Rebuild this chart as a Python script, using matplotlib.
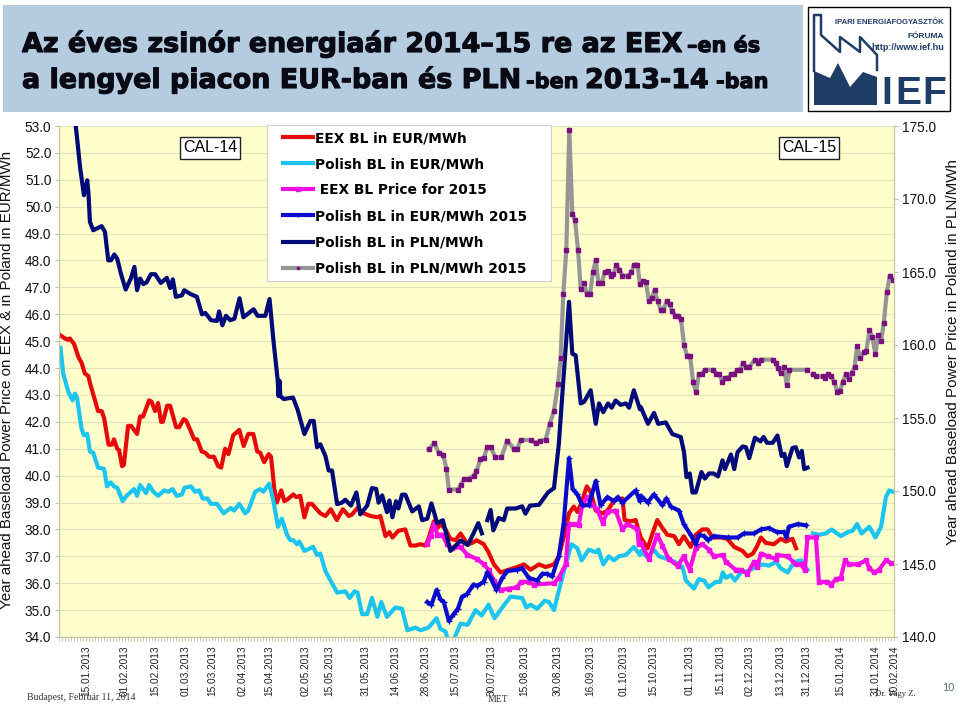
#!/usr/bin/env python3
"""Year-ahead baseload power prices, EEX and Poland, CAL-14 and CAL-15."""

import matplotlib
matplotlib.use("Agg")
import matplotlib.pyplot as plt
from matplotlib.patches import Polygon, Rectangle
import matplotlib.patheffects as pe

plt.rcParams["font.family"] = ["Liberation Sans", "DejaVu Sans"]

TICK_POS = [9, 22, 32, 42, 51, 61, 70, 82, 90, 102, 112, 122, 132, 144, 155, 166, 177, 188, 198, 210, 220, 230, 240, 249, 260, 272, 278]
TICK_LABELS = ["15.01.2013", "01.02.2013", "15.02.2013", "01.03.2013", "15.03.2013", "02.04.2013", "15.04.2013", "02.05.2013", "15.05.2013",
               "31.05.2013", "14.06.2013", "28.06.2013", "15.07.2013", "30.07.2013", "15.08.2013", "30.08.2013", "16.09.2013", "01.10.2013",
               "15.10.2013", "01.11.2013", "15.11.2013", "02.12.2013", "13.12.2013", "31.12.2013", "15.01.2014", "31.01.2014", "10.02.2014"]

eex_x = [0, 2, 3, 3.6, 5, 6.5, 7.5, 8.6, 9.8, 10.3, 13, 14.2, 15, 16.5, 17.6, 18.3, 19.4, 20, 21, 21.6, 23, 24, 26, 27, 28, 30, 30.8, 32, 33, 34, 34.6, 36, 37, 39, 40, 41.5, 42.3, 43.7, 45, 46, 47.5, 48.7, 50, 51.6, 53, 54, 55.3, 56.4, 58, 60, 61.5, 63, 64.7, 66, 67, 68.3, 69.8, 70.6, 71.7, 72.5, 74, 75, 75.9, 78, 79, 80.3, 81.7, 83, 84.2, 87,
         88.7, 90.5, 92.5, 94.5, 96.5, 97.5, 99.4, 101.4, 103.7, 106, 107, 108.7, 110, 111, 113, 115.3, 117, 118.7, 120.3, 122, 123, 124.8, 126, 127, 128.7, 130.3, 132, 133.7, 136, 137.6, 139, 141.4, 143, 144.8, 147, 149.8, 152.5, 154.8, 157, 159.8, 162, 164.8, 166.4, 168, 169.8, 171.4, 172.6, 174, 175.7, 177, 178.7, 181, 182.6, 185, 187.6, 188.3, 190.3, 192, 193, 193.7,
         196, 197.6, 199.2, 200.6, 202.5, 204.8, 206.4, 208, 210.3, 212, 214.2, 215.9, 217.6, 220.3, 222.5, 224.8, 227.6, 229.2, 231, 232.3, 233.7, 235.3, 238, 240.3, 242, 244.2, 245.4]
eex_y = [45.25, 45.1, 45.05, 45.1, 44.9, 44.4, 44.2, 43.8, 43.7, 43.45, 42.4, 42.4, 42.15, 41.15, 41.15, 41.35, 41.0, 40.95, 40.35, 40.4, 41.85, 41.85, 41.55, 42.2, 42.2, 42.8, 42.75, 42.4, 42.7, 42.0, 42.0, 42.6, 42.6, 41.8, 41.8, 42.1, 42.05, 41.7, 41.35, 41.35, 40.9, 40.85, 40.7, 40.7, 40.35, 40.3, 41.0, 40.8, 41.5, 41.7, 41.1, 41.55, 41.55, 40.9, 40.85, 40.5, 40.8, 40.7, 39.5, 39.0, 39.45, 39.05, 39.1, 39.3, 39.2, 39.25, 38.45, 38.95, 38.95, 38.6,
         38.5, 38.75, 38.35, 38.75, 38.5, 38.55, 38.8, 38.6, 38.5, 38.45, 38.5, 37.75, 37.9, 37.7, 37.95, 38.0, 37.4, 37.4, 37.45, 37.4, 37.65, 38.3, 38.05, 38.2, 38.0, 37.65, 37.6, 37.85, 37.45, 37.5, 37.6, 37.45, 37.15, 36.7, 36.4, 36.5, 36.6, 36.7, 36.5, 36.7, 36.6, 36.7, 37.0, 37.7, 38.6, 38.85, 38.65, 39.0, 39.6, 39.4, 38.7, 38.6, 38.7, 39.1, 39.15, 38.35, 38.3, 38.35, 37.95, 37.7,
         37.3, 37.85, 38.35, 38.1, 37.8, 37.75, 37.45, 37.75, 37.35, 37.8, 38.0, 38.0, 37.7, 37.7, 37.65, 37.35, 37.2, 37.0, 37.1, 37.35, 37.7, 37.5, 37.45, 37.65, 37.55, 37.65, 37.3]

pl_x = [0.5, 1.4, 3, 4.5, 5.3, 6, 7.5, 8.3, 9.4, 10.3, 11.4, 13, 15, 16, 17.2, 18.3, 19.4, 21.2, 22.5, 25, 26, 27, 29, 30, 31.4, 33, 35, 36.4, 37.8, 39.2, 40.9, 41.8, 44, 45.3, 46.7, 47.8, 49.4, 50.6, 52.6, 54.8, 57.2, 58.3, 60, 62, 63, 65.3, 67, 68, 70, 71.4, 72.9, 74.2, 75.9, 77, 78, 79.2, 80, 81.7, 84.6, 85.9, 87,
        88.7, 92.6, 95.3, 96.8, 98.4, 99.4, 100.9, 102.6, 104.2, 106, 107.3, 109.2, 112, 114.2, 116, 118.7, 120.3, 123, 125.7, 127, 128.7, 129.8, 131.4, 133.7, 136, 138.7, 140.7, 143, 145, 147.6, 150.3, 154.2, 155.6, 157, 159.2, 161.7, 163.1, 164.8, 165.9, 168, 170.6, 172.6, 174, 176.4, 178.7, 179.6, 181.2, 183, 184.8, 186.4, 188.7, 191.4, 193.4, 193.7,
        196, 198, 199.8, 202.5, 205, 207.6, 208.7, 211.4, 213, 214.8, 216.2, 218.7, 220.1, 221, 222, 223.7, 225, 227, 229.2, 232, 234.2, 236.4, 238.7, 240.3, 242.6, 244.8, 247, 249.2]
pl_y = [44.75, 43.8, 43.15, 42.8, 43.05, 42.9, 41.75, 41.5, 41.55, 40.9, 40.85, 40.3, 40.25, 39.6, 39.75, 39.6, 39.55, 39.05, 39.25, 39.5, 39.25, 39.65, 39.35, 39.65, 39.4, 39.25, 39.45, 39.4, 39.5, 39.25, 39.3, 39.55, 39.6, 39.4, 39.45, 39.15, 39.15, 38.95, 38.95, 38.6, 38.8, 38.7, 38.95, 38.6, 38.7, 39.4, 39.5, 39.4, 39.7, 39.05, 38.1, 38.4, 37.8, 37.6, 37.6, 37.45, 37.55, 37.2, 37.35, 37.05, 37.1,
        36.45, 35.65, 35.7, 35.45, 35.7, 35.65, 34.85, 34.85, 35.45, 34.75, 35.3, 34.75, 35.1, 35.05, 34.25, 34.35, 34.25, 34.35, 34.7, 34.3, 34.2, 33.75, 33.9, 34.5, 34.45, 35.0, 34.8, 35.2, 34.7, 35.1, 35.5, 35.45, 35.1, 35.2, 35.05, 35.35, 35.3, 35.0, 35.5, 36.4, 37.45, 37.3, 36.85, 37.25, 37.15, 37.25, 36.7, 37.0, 36.85, 37.0, 37.05, 37.35, 37.05, 37.2,
        36.95, 37.25, 37.0, 36.9, 36.8, 36.6, 36.1, 35.8, 36.15, 36.1, 35.85, 36.05, 36.05, 36.4, 36.2, 36.3, 36.1, 36.4, 36.45, 36.6, 36.7, 36.65, 36.8, 36.55, 36.4, 36.8, 36.85, 36.5]
pl2_x = [251, 253, 255.3, 257.2, 260.3, 262.6, 264.2, 265.7, 267.2, 269.8, 271.8, 273.7, 275.3, 276.4, 277.6]
pl2_y = [37.85, 37.8, 37.85, 38.0, 37.75, 37.9, 37.95, 38.2, 37.85, 38.1, 37.7, 38.1, 39.2, 39.45, 39.4]

eex15_x = [122.6, 123.7, 124.8, 126, 127.6, 129.2, 130.9, 133.7, 136, 139.2, 141.4, 143, 144.8, 147, 149.8, 152.6, 153.7, 156.4, 158, 164.8, 166.4, 168.7, 169.8, 171.4, 173, 174.2, 175.9, 177.6, 179.2, 181, 182.6, 185.3, 187.6, 189.2, 192.6, 193, 193.7,
           196.4, 199.2, 200.9, 203, 206, 208, 210, 212, 214.2, 216.4, 218, 221, 222, 225.3, 227, 229.2, 231.4, 232.5, 233.7, 236, 238.7, 239.2, 242.6, 245.3, 247, 248.3, 249.2, 252, 253, 255.8, 257, 258.7, 260.3, 261.7, 263.1, 266, 268.7, 269.8, 271.4, 273, 275.3, 277]
eex15_y = [37.45, 37.75, 38.2, 37.8, 37.8, 37.45, 37.3, 37.35, 37.05, 36.9, 36.7, 36.5, 36.1, 35.75, 35.8, 35.85, 36.05, 36.05, 35.95, 36.0, 36.2, 36.7, 38.2, 38.2, 38.15, 38.9, 39.2, 38.9, 38.75, 38.25, 38.65, 38.7, 38.0, 38.2, 38.0, 37.45, 37.5,
           36.9, 37.8, 37.4, 36.9, 36.65, 37.0, 36.5, 37.3, 37.45, 37.25, 37.0, 37.05, 36.8, 36.5, 36.5, 36.35, 36.8, 36.6, 37.1, 37.0, 36.9, 37.05, 37.0, 36.7, 36.7, 36.5, 37.7, 37.7, 36.05, 36.05, 35.95, 36.15, 36.2, 36.85, 36.7, 36.7, 36.85, 36.55, 36.4, 36.5, 36.85, 36.75]

pl15_x = [122.6, 124, 125.7, 127, 128.1, 129.8, 131.4, 132.8, 134.2, 135.9, 138, 139.2, 141.4, 142.6, 143.7, 145.6, 147.6, 149.2, 152.6, 154.2, 156.4, 159.2, 160.9, 162.6, 164.2, 166.4, 168, 169.8, 171, 172.6, 174.2, 176.4, 178.7, 180.3, 182.6, 184.8, 186, 187.6, 192, 193.4, 193.7,
          196, 198, 200.9, 202.2, 203.7, 206.4, 208, 210.3, 212, 213.1, 214.8, 216, 218, 222.6, 226, 228, 231.4, 233.7, 236.4, 239, 241.4, 242.2, 243, 246, 248.7]
pl15_y = [35.3, 35.2, 35.75, 35.4, 35.3, 34.6, 34.85, 35.05, 35.5, 35.6, 35.95, 35.9, 36.05, 36.4, 36.2, 35.75, 36.2, 36.45, 36.5, 36.55, 36.2, 36.1, 36.35, 36.35, 36.25, 37.0, 38.2, 40.65, 39.5, 39.3, 38.9, 38.9, 39.8, 38.9, 39.2, 39.05, 39.2, 39.0, 39.45, 39.05, 39.25,
          39.0, 39.3, 38.9, 39.15, 38.85, 38.7, 38.2, 37.8, 37.45, 37.8, 37.75, 37.6, 37.75, 37.7, 37.7, 37.85, 37.85, 38.0, 38.05, 37.9, 37.9, 37.7, 38.1, 38.2, 38.15]

pln_x = [4.5, 6.1, 7, 8.3, 9.4, 9.8, 10.3, 11.4, 14.2, 15.3, 16.4, 17.3, 18.4, 19.4, 20.6, 22.2, 23.9, 25.1, 26, 27, 28.1, 29.2, 30.6, 32, 33.9, 35.9, 37, 37.9, 38.9, 40.9, 41.7, 43.7, 45.9, 47.6, 48.7, 50.6, 52.6, 53.3, 54.4, 55.6, 57, 58.4, 60.1, 61.4, 64.8, 66.1, 68.7, 70.1, 71.4, 72.8, 73.1, 73.4, 73.7, 74.8, 77.9, 79.4, 81.7, 83.7, 84.8, 85.9, 87,
         88.7, 89.8, 90.9, 92.6, 94.2, 95.3, 97.2, 99, 100.3, 102.6, 104.2, 105.6, 106.4, 107.6, 109.2, 110, 111, 112.2, 113, 114.2, 115.3, 117.6, 119.8, 120.9, 122.6, 124, 125.9, 127.8, 130.3, 133.7, 136.1, 138, 139.6, 140.8]
pln_y = [177.0, 174.0, 172.2, 170.26, 171.28, 170.4, 168.43, 167.86, 168.14, 167.75, 165.8, 165.8, 166.2, 165.9, 164.9, 163.8, 164.55, 165.35, 163.75, 164.55, 164.17, 164.3, 164.85, 164.85, 164.25, 164.6, 163.9, 164.5, 163.3, 163.4, 163.75, 163.5, 163.3, 162.1, 162.2, 161.7, 161.65, 162.3, 161.35, 162.0, 161.7, 161.8, 163.2, 161.9, 162.45, 162.0, 162.0, 163.15, 160.3, 157.6, 156.5, 157.55, 156.5, 156.3, 156.4, 155.6, 153.9, 154.8, 154.8, 153.0, 153.2,
         152.4, 151.4, 151.4, 149.1, 149.2, 149.4, 149.0, 149.9, 148.4, 149.0, 150.2, 150.15, 149.2, 149.7, 148.55, 149.35, 148.2, 149.3, 148.8, 149.75, 149.75, 148.6, 148.95, 148.0, 148.1, 149.15, 147.8, 148.0, 145.9, 146.6, 146.3, 147.1, 147.8, 147.1]
pln2_x = [142.6, 143.7, 144.6, 146.4, 148.1, 149.2, 152, 154.2, 155.3, 156.8, 159.8, 162.8, 164.8, 166.4, 167.9, 169.8, 170.9, 172, 173.7, 174.8, 177, 178.7, 179.8, 181.2, 182.8, 184, 185.3, 187, 188.7, 189.8, 191.4, 193.4, 193.7,
          196.1, 198.1, 199.5, 202, 204.2, 207, 208.1, 208.9, 210, 210.9, 212, 213.9, 215, 216.4, 218, 219.4, 220.9, 221.7, 223.7, 224.8, 225.9, 227.6, 228.7, 229.8, 231.7, 233.5, 234.6, 235.7, 237.6, 239.2, 240.6, 241.5, 242.3, 244.2, 245.3, 246.4, 247.3, 248.1, 249.2]
pln2_y = [148.0, 148.7, 147.3, 148.15, 148.0, 148.8, 148.8, 148.95, 148.45, 149.0, 149.05, 149.9, 150.2, 153.2, 157.55, 162.96, 159.4, 159.3, 156.0, 156.1, 156.9, 154.6, 156.0, 155.4, 156.0, 155.7, 156.2, 155.9, 156.0, 155.7, 156.9, 155.6, 155.75,
          154.6, 155.35, 154.6, 154.7, 153.9, 153.7, 152.65, 150.95, 151.2, 149.9, 149.9, 151.3, 150.85, 151.2, 151.2, 151.0, 152.1, 151.5, 152.5, 151.5, 152.65, 153.05, 153.0, 152.25, 153.65, 153.4, 153.7, 153.3, 153.3, 153.8, 152.4, 152.55, 151.7, 152.95, 153.0, 152.3, 152.75, 151.5, 151.6]

pln15_x = [123.1, 125, 126.4, 127.9, 129, 129.8, 132.8, 133.7, 134.8, 136.4, 138.1, 139, 140.3, 141.4, 142.6, 143.7, 145.3, 147.3, 149.2, 151.4, 152.6, 153.7, 157, 158.7, 160.3, 162, 163.4, 164.8, 166.1, 167, 167.9, 168.9, 169.9, 170.9, 171.8, 172.8, 173.7, 174.8, 175.7, 176.8, 177.8, 178.7, 179.6, 180.7, 181.7, 182.7, 183.7, 184.6, 185.6, 186.6, 187.6, 189.6, 190.6, 191.4, 192.6, 193.4, 194.4, 195.4, 196.4, 197.3, 198.3, 199.3, 200.3, 201.2, 202.3, 203.3, 204.2, 205.2, 206.2, 207.1, 208.1, 209.1, 210.1, 211.1, 212.1, 213, 214, 215, 217.9, 218.9, 219.9, 220.9, 221.9, 222.8, 223.8, 224.8, 225.8, 226.8, 227.7, 228.7, 229.8, 231.7, 232.6, 233.7, 237.6, 238.7, 239.4, 240.3, 241.3, 242.3, 243.2, 249.2]
pln15_y = [152.85, 153.3, 152.6, 152.5, 151.5, 150.1, 150.1, 150.4, 150.8, 150.85, 151.05, 151.35, 152.2, 152.25, 153.0, 153.0, 152.3, 152.3, 153.45, 152.9, 152.9, 153.5, 153.5, 153.3, 153.45, 153.5, 154.6, 155.5, 157.3, 159.1, 163.5, 166.5, 174.75, 169.0, 168.55, 166.5, 163.85, 164.25, 163.5, 163.5, 165.0, 165.8, 164.25, 164.25, 165.0, 165.05, 164.75, 164.85, 165.5, 165.15, 164.75, 164.75, 165.0, 165.5, 165.5, 164.15, 164.4, 164.3, 163.0, 163.25, 163.75, 163.0, 162.4, 162.4, 163.0, 162.8, 162.3, 162.0, 162.0, 161.75, 160.0, 159.25, 159.25, 157.5, 156.75, 158.0, 158.0, 158.3, 158.3, 158.0, 158.0, 157.45, 157.75, 157.75, 158.0, 158.0, 158.3, 158.3, 158.75, 158.5, 158.5, 159.0, 158.8, 159.0, 159.0, 158.75, 158.45, 158.05, 158.5, 157.25, 158.3, 158.3]
pln15b_x = [251, 252, 254.2, 255.1, 256.1, 257, 258.1, 259.1, 260, 261, 262, 263, 263.9, 264.9, 265.7, 266.8, 267.9, 268.8, 269.8, 270.8, 271.8, 272.7, 273.7, 274.6, 275.6, 276.6, 277.6]
pln15b_y = [158.0, 157.85, 157.85, 157.75, 158.0, 157.85, 157.5, 156.8, 156.85, 157.5, 158.0, 157.65, 158.05, 158.5, 159.9, 159.1, 159.5, 159.6, 161.0, 160.55, 159.35, 160.7, 160.3, 161.5, 163.6, 164.75, 164.45]

LEFT_TICKS = [34 + i for i in range(20)]
RIGHT_TICKS = [140, 145, 150, 155, 160, 165, 170, 175]
LEGEND_LABELS = ["EEX BL in EUR/MWh", "Polish BL in EUR/MWh", " EEX BL Price for 2015", "Polish BL in EUR/MWh 2015", "Polish BL in PLN/MWh", "Polish BL in PLN/MWh 2015"]

W, H = 960, 704
AX_W, AX_H = 894 - 59, 637 - 126
RED, CYAN, MAG, BLUE, NAVY, GREY, PURP = "#e60b0b", "#1cc4f0", "#f010e6", "#0b0bd0", "#000a78", "#969696", "#7a1080"
EDGE = "#c4c4a0"

fig = plt.figure(figsize=(W / 100, H / 100), dpi=100, facecolor="white")
ax = fig.add_axes([59 / W, 1 - 637 / H, AX_W / W, AX_H / H], facecolor="#ffffcc")
ax.set_xlim(0, 278)
ax.set_ylim(34, 53)
ax2 = ax.twinx()
ax2.set_ylim(140, 175)

ax.set_yticks(LEFT_TICKS, [f"{v:.1f}" for v in LEFT_TICKS], fontsize=9.8, color="#111111")
ax2.set_yticks(RIGHT_TICKS, [f"{v:.1f}" for v in RIGHT_TICKS], fontsize=9.8, color="#111111")
ax.set_xticks(TICK_POS, TICK_LABELS, rotation=90, fontsize=7.3, color="#222222")
ax.set_xticks(range(279), minor=True)
ax.tick_params(axis="x", which="major", length=3, color=EDGE, pad=3)
ax.tick_params(axis="x", which="minor", length=3, color=EDGE, width=0.6)
ax.tick_params(axis="y", length=3, color=EDGE, pad=2.5)
ax2.tick_params(axis="y", length=3, color=EDGE, pad=2.5)
ax.grid(axis="y", color="#e6e3bc", lw=0.9)
ax.set_axisbelow(True)
for a in (ax, ax2):
    a.spines["top"].set_visible(False)
    for side in ("left", "right", "bottom"):
        a.spines[side].set_color(EDGE)

ax.set_ylabel("Year ahead Baseload Power Price on EEX & in Poland in EUR/MWh", fontsize=10.9, color="#111111")
ax.yaxis.set_label_coords((14 - 59) / AX_W, (637 - 380) / AX_H)
ax2.set_ylabel("Year ahead Baseload Power Price in Poland in PLN/MWh", fontsize=10.9, rotation=90, color="#111111")
ax2.yaxis.set_label_coords((946 - 59) / AX_W, (637 - 352) / AX_H)

ax.plot(eex_x, eex_y, color=RED, lw=3, label=LEGEND_LABELS[0], solid_joinstyle="round")
ax.plot(pl_x, pl_y, color=CYAN, lw=3, label=LEGEND_LABELS[1], solid_joinstyle="round")
ax.plot(pl2_x, pl2_y, color=CYAN, lw=3, solid_joinstyle="round")
ax.plot(eex15_x, eex15_y, color=MAG, lw=3, marker="s", ms=3.5, label=LEGEND_LABELS[2], solid_joinstyle="round")
ax.plot(pl15_x, pl15_y, color=BLUE, lw=3, marker="+", ms=4, mew=1, label=LEGEND_LABELS[3], solid_joinstyle="round")

ax2.plot(pln_x, pln_y, color=NAVY, lw=3, label=LEGEND_LABELS[4], solid_joinstyle="round")
ax2.plot(pln2_x, pln2_y, color=NAVY, lw=3, solid_joinstyle="round")
ax2.plot(pln15_x, pln15_y, color=GREY, lw=3, marker="s", ms=2.2, mfc=PURP, mec=PURP, label=LEGEND_LABELS[5])
ax2.plot(pln15b_x, pln15b_y, color=GREY, lw=3, marker="s", ms=2.2, mfc=PURP, mec=PURP)

# legend frame is a separate box because it has more padding at the sides than on top
ax2.add_patch(Rectangle(((267 - 59) / AX_W, (637 - 281) / AX_H), 284 / AX_W, 156 / AX_H, transform=ax2.transAxes, fc="white", ec="#d0d0d0",
                        lw=0.8, zorder=9, clip_on=False))
h1, l1 = ax.get_legend_handles_labels()
h2, l2 = ax2.get_legend_handles_labels()
leg = ax2.legend(h1 + h2, l1 + l2, loc="upper left", bbox_to_anchor=((283 - 59) / AX_W, (637 - 131) / AX_H), frameon=False,
                 prop={"family": "DejaVu Sans", "weight": "bold", "size": 9.9}, labelspacing=0.88, handlelength=2.18, handletextpad=0.15,
                 borderaxespad=0, borderpad=0, markerscale=0.7)
leg.set_zorder(10)

for name, xpos in (("CAL-14", 210), ("CAL-15", 809)):
    ax2.text((xpos - 59) / AX_W, (637 - 148) / AX_H, name, transform=ax2.transAxes, ha="center", va="center", fontsize=11.5,
             bbox=dict(fc="white", ec="#222222", lw=1, boxstyle="square,pad=0.2"), zorder=11)

# page furniture in pixel coordinates
pg = fig.add_axes([0, 0, 1, 1], facecolor="none")
pg.set_xlim(0, W)
pg.set_ylim(H, 0)
pg.axis("off")
pg.add_patch(Rectangle((3, 5), 800, 107, fc="#b5cce0", ec="none"))

stroke = [pe.withStroke(linewidth=0.8, foreground="#0a0a14")]
for x, y, s, size in ((22, 52, "Az éves zsinór energiaár 2014–15 re az EEX", 19.4), (687, 52, "–en és", 15),
                      (22, 88, "a lengyel piacon EUR-ban és PLN", 19.4), (526, 88, "-ben", 15), (585, 88, "2013-14", 19.4), (716, 88, "-ban", 15)):
    pg.text(x, y, s, family="DejaVu Sans", fontsize=size, fontweight="bold", color="#0a0a14", va="baseline", ha="left", path_effects=stroke)

LOGO = "#1d3c66"
pg.add_patch(Rectangle((808, 7), 142, 104, fc="white", ec="black", lw=1))
pg.add_patch(Polygon([(814, 71), (830, 78), (838, 63), (850, 87), (863, 72), (877, 77), (877, 105), (814, 105)], fc=LOGO, ec="none"))
pg.plot([814, 814, 821, 821, 840, 840, 860, 860, 877, 877], [71, 15, 15, 35, 52, 37, 52, 37, 55, 70], color=LOGO, lw=1.8)
pg.text(944, 23, "IPARI ENERGIAFOGYASZTÓK", fontsize=5.5, fontweight="bold", color=LOGO, ha="right", va="center")
pg.text(944, 36, "FÓRUMA", fontsize=6, fontweight="bold", color=LOGO, ha="right", va="center")
pg.text(944, 47, "http://www.ief.hu", fontsize=6.5, fontweight="bold", color=LOGO, ha="right", va="center")
for x, s in ((881, "I"), (895, "E"), (922, "F")):
    pg.text(x, 104, s, fontsize=28, fontweight="bold", color=LOGO, ha="left", va="baseline")

pg.text(27, 698, "Budapest, Február 11, 2014", family="Liberation Serif", fontsize=7, color="#333333", va="center")
pg.text(498, 700, "MET", family="Liberation Serif", fontsize=7, color="#333333", va="center", ha="center")
pg.text(875, 694, "Dr. Vagy Z.", family="Liberation Serif", fontsize=6.3, color="#333333", va="center")
pg.text(948, 688, "10", fontsize=8, color="#5a7080", va="center", ha="center")

fig.savefig("out.png", dpi=100)
